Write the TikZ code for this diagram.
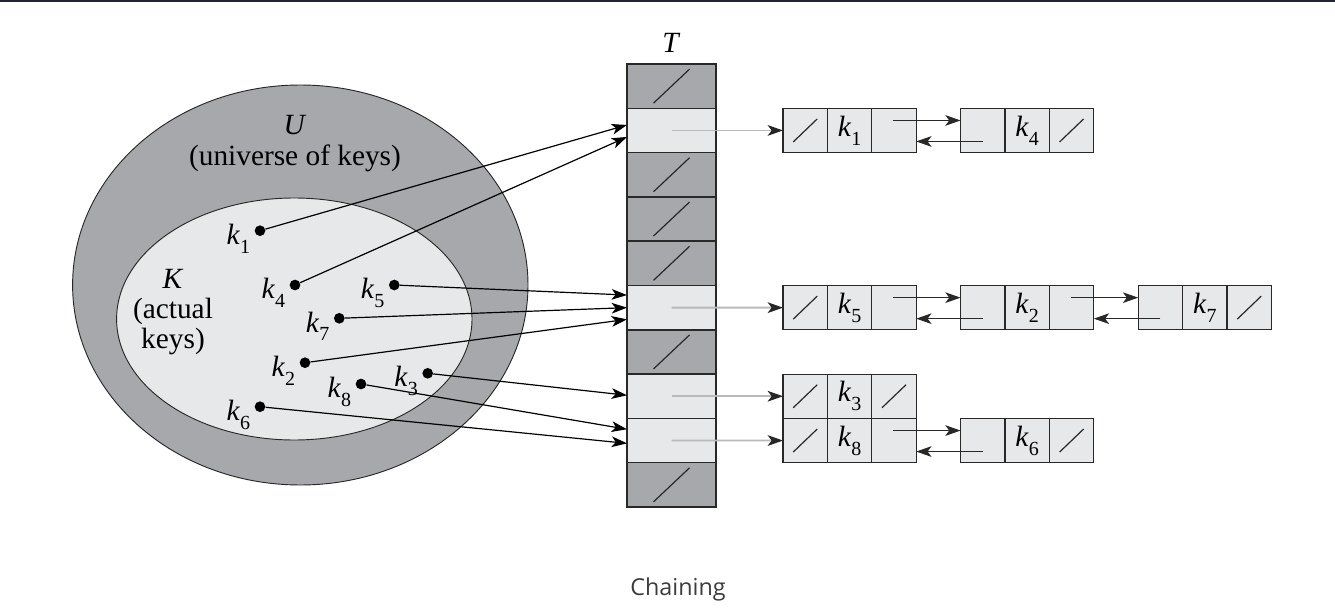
\documentclass[tikz,border=0pt]{standalone}
\usepackage{fontspec}
\setmainfont{Liberation Serif}
\newfontfamily\capfont{Open Sans}
\usetikzlibrary{arrows.meta,calc}
\definecolor{dk}{RGB}{167,168,172}
\definecolor{lt}{RGB}{231,232,233}
\definecolor{ln}{RGB}{40,40,40}
\definecolor{topbar}{RGB}{34,38,46}
\definecolor{captxt}{RGB}{60,60,60}
\newcommand\kk[1]{\textit{k}\raisebox{-0.3em}{\fontsize{15pt}{15pt}\selectfont #1}}
\begin{document}
\begin{tikzpicture}[x=0.75pt,y=-0.75pt, font=\fontsize{22pt}{26pt}\selectfont,
  tip/.style={-{Stealth[length=11.5pt,width=8pt,inset=3pt]}},
  tcell/.style={draw=ln, line width=1.1pt, minimum width=89*0.75pt, minimum height=44.3*0.75pt, inner sep=0pt, outer sep=0pt},
  tdark/.style={tcell, fill=dk},
  tlight/.style={tcell, fill=lt},
  lcell/.style={draw=ln, line width=0.9pt, fill=lt, minimum width=44.4*0.75pt, minimum height=44.3*0.75pt, inner sep=0pt, outer sep=0pt},
  dot/.style={circle, fill=black, inner sep=0pt, minimum size=8pt},
  kl/.style={anchor=east, inner sep=0pt, xshift=-3pt, yshift=-6pt},
  karrow/.style={tip, line width=0.9pt, black},
  ptr/.style={tip, line width=0.8pt, ln},
  headptr/.style={line width=1.4pt, draw=gray!55, -{Stealth[length=11.5pt,width=8pt,inset=3pt,color=black!85]}},
  nil/.style={line width=0.9pt, ln},
  txt/.style={inner sep=0pt},
]
\useasboundingbox (0,0) rectangle (1335,613);
\fill[topbar] (0,0) rectangle (1335,2.5);

% sets
\draw[fill=dk, draw=ln, line width=0.7pt] (300.3,285) ellipse [x radius=227.7, y radius=200];
\draw[fill=lt, draw=ln, line width=0.7pt] (294.3,319) ellipse [x radius=177.7, y radius=121];
\node[txt] (Ut) at (295,125) {\textit{U}};
\node[txt] (Ud) at (295,158) {(universe of keys)};
\node[txt, align=center, font=\fontsize{22pt}{22.5pt}\selectfont] (Kt) at (173,312) {\textit{K}\\(actual\\keys)};

% table
\node[txt] (Tl) at (671.5,43) {\textit{T}};
\foreach \i/\s in {0/tdark,1/tlight,2/tdark,3/tdark,4/tdark,5/tlight,6/tdark,7/tlight,8/tlight,9/tdark}
  \node[\s] (t\i) at (671.5,{86.15+44.3*\i}) {};
\foreach \i in {0,2,3,4,6,9}
  \draw[nil] ($(t\i.center)+(-18,17)$) -- ($(t\i.center)+(18,-17)$);

% lists
\foreach \n/\X/\Y/\k in {k1/783/130.45/1, k4/960.6/130.45/4, k5/783/307.65/5, k2/960.6/307.65/2, k7/1138.2/307.65/7, k3/783/396.25/3, k8/783/440.55/8, k6/960.6/440.55/6} {
  \node[lcell] (\n-a) at ({\X+22.2},\Y) {};
  \node[lcell] (\n-b) at ({\X+66.6},\Y) {\kk{\k}};
  \node[lcell] (\n-c) at ({\X+111},\Y) {};
}
\foreach \c in {k1-a,k4-c,k5-a,k7-c,k3-a,k3-c,k8-a,k6-c}
  \draw[nil] ($(\c.center)+(-12,11.5)$) -- ($(\c.center)+(12,-11.5)$);

\foreach \r/\n in {1/k1,5/k5,7/k3,8/k8}
  \draw[headptr] (t\r.center) -- (\n-a.west);

\foreach \p/\q in {k1/k4,k5/k2,k2/k7,k8/k6} {
  \draw[ptr] ($(\p-c.center)+(-1,-10)$) -- ($(\q-a.west)+(0,-10)$);
  \draw[ptr] ($(\q-a.center)+(0,11)$) -- ($(\p-c.east)+(0,11)$);
}

% keys
\node[dot, label={[kl]west:\kk{1}}] (d1) at (260,230.7) {};
\node[dot, label={[kl]west:\kk{4}}] (d4) at (295,285) {};
\node[dot, label={[kl]west:\kk{5}}] (d5) at (394.3,285) {};
\node[dot, label={[kl]west:\kk{7}}] (d7) at (339.3,318.3) {};
\node[dot, label={[kl]west:\kk{2}}] (d2) at (305,362.7) {};
\node[dot, label={[kl]west:\kk{3}}] (d3) at (427.7,373.3) {};
\node[dot, label={[kl]west:\kk{8}}] (d8) at (361,384) {};
\node[dot, label={[kl]west:\kk{6}}] (d6) at (260,406.7) {};

\draw[karrow] (d1) -- ($(t1.west)+(0,-5.5)$);
\draw[karrow] (d4) -- ($(t1.west)+(0,6.5)$);
\draw[karrow] (d5) -- ($(t5.west)+(0,-12.6)$);
\draw[karrow] (d7) -- (t5.west);
\draw[karrow] (d2) -- ($(t5.west)+(0,11.7)$);
\draw[karrow] (d3) -- ($(t7.west)+(0,-1)$);
\draw[karrow] (d8) -- ($(t8.west)+(0,-11.3)$);
\draw[karrow] (d6) -- ($(t8.west)+(0,2.8)$);

\node[font=\capfont\fontsize{17.5pt}{20pt}\selectfont, text=captxt] (cap) at (678,589) {Chaining};
\end{tikzpicture}
\end{document}
